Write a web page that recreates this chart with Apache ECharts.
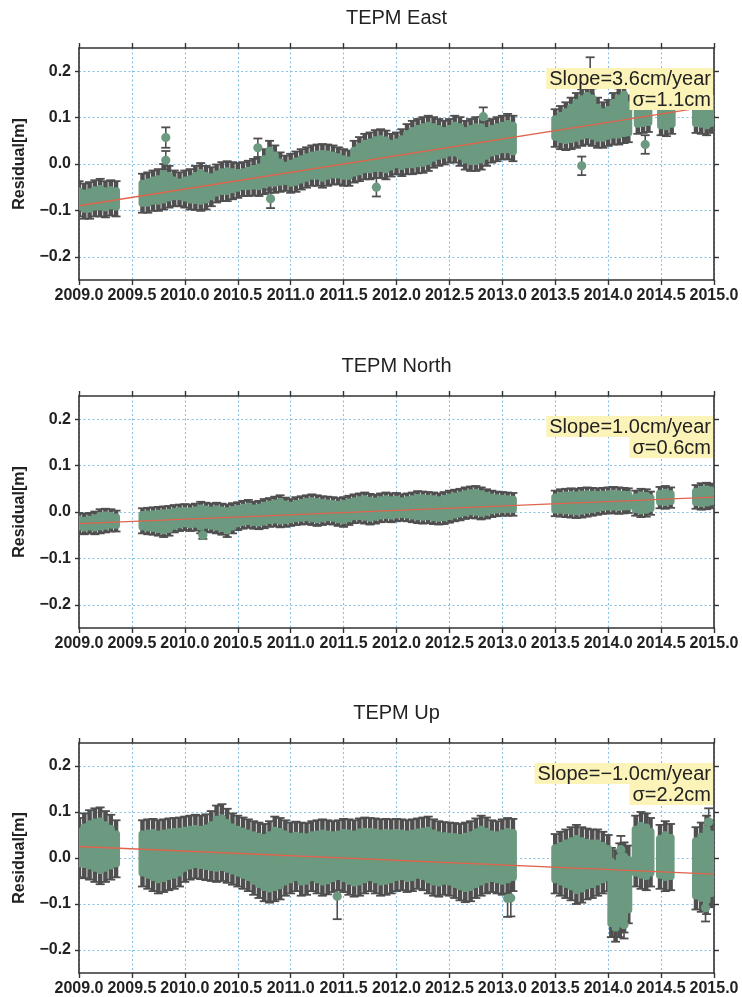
<!DOCTYPE html>
<html><head><meta charset="utf-8">
<script src="https://cdn.jsdelivr.net/npm/echarts@6/dist/echarts.min.js"></script>
<style>html,body{margin:0;padding:0;background:#fff}#c{width:742px;height:997px}</style>
</head><body><div id="c"></div><script>
// ---------------- DATA ----------------
const panelTitles = ['TEPM East', 'TEPM North', 'TEPM Up'];
const slopeTexts = ['Slope=3.6cm/year', 'Slope=1.0cm/year', 'Slope=\u22121.0cm/year'];
const sigmaTexts = ['\u03c3=1.1cm', '\u03c3=0.6cm', '\u03c3=2.2cm'];
const yTickValues = [-0.2, -0.1, 0, 0.1, 0.2];
const xMin = 2009.0, xMax = 2015.0, xStep = 0.5;

// bands: [time, low edge of point cloud, high edge of point cloud]
const eastBand = [
[2009.00,-0.100,-0.050],[2009.05,-0.105,-0.055],[2009.10,-0.105,-0.052],[2009.15,-0.100,-0.048],
[2009.20,-0.100,-0.045],[2009.25,-0.102,-0.050],[2009.30,-0.098,-0.048],[2009.35,-0.100,-0.050],
[2009.60,-0.092,-0.034],[2009.65,-0.092,-0.031],[2009.70,-0.088,-0.027],[2009.75,-0.088,-0.024],
[2009.80,-0.085,-0.013],[2009.85,-0.081,-0.017],[2009.90,-0.078,-0.027],[2009.95,-0.078,-0.031],
[2010.00,-0.081,-0.027],[2010.05,-0.085,-0.024],[2010.10,-0.086,-0.017],[2010.15,-0.088,-0.011],
[2010.20,-0.085,-0.017],[2010.25,-0.078,-0.020],[2010.30,-0.070,-0.014],[2010.35,-0.067,-0.009],
[2010.40,-0.067,-0.007],[2010.45,-0.063,-0.009],[2010.50,-0.060,-0.011],[2010.55,-0.056,-0.009],
[2010.60,-0.056,-0.006],[2010.65,-0.055,-0.002],[2010.70,-0.056,0.001],[2010.75,-0.052,0.019],
[2010.80,-0.049,0.037],[2010.85,-0.049,0.027],[2010.90,-0.047,0.012],[2010.95,-0.045,0.005],
[2011.00,-0.049,0.009],[2011.05,-0.047,0.014],[2011.10,-0.042,0.019],[2011.15,-0.038,0.023],
[2011.20,-0.034,0.027],[2011.25,-0.034,0.029],[2011.30,-0.038,0.030],[2011.35,-0.034,0.029],
[2011.40,-0.031,0.027],[2011.45,-0.031,0.023],[2011.50,-0.034,0.019],[2011.55,-0.034,0.016],
[2011.60,-0.027,0.037],[2011.65,-0.024,0.045],[2011.70,-0.020,0.052],[2011.75,-0.020,0.055],
[2011.80,-0.017,0.060],[2011.85,-0.017,0.062],[2011.90,-0.020,0.059],[2011.95,-0.014,0.052],
[2012.00,-0.009,0.055],[2012.05,-0.013,0.062],[2012.10,-0.009,0.073],[2012.15,-0.009,0.080],
[2012.20,-0.007,0.084],[2012.25,-0.006,0.088],[2012.30,-0.002,0.091],[2012.35,0.005,0.088],
[2012.40,0.009,0.084],[2012.45,0.012,0.080],[2012.50,0.016,0.084],[2012.55,0.016,0.091],
[2012.60,0.009,0.088],[2012.65,0.001,0.080],[2012.70,-0.002,0.084],[2012.75,-0.002,0.088],
[2012.80,0.001,0.088],[2012.85,0.009,0.080],[2012.90,0.016,0.084],[2012.95,0.019,0.088],
[2013.00,0.023,0.091],[2013.05,0.023,0.095],[2013.10,0.019,0.091],
[2013.50,0.050,0.105],[2013.55,0.045,0.112],[2013.60,0.043,0.120],[2013.65,0.045,0.130],
[2013.70,0.048,0.140],[2013.75,0.052,0.148],[2013.80,0.055,0.155],[2013.85,0.052,0.150],
[2013.90,0.048,0.130],[2013.95,0.048,0.120],[2014.00,0.052,0.125],[2014.05,0.055,0.140],
[2014.10,0.055,0.150],[2014.15,0.058,0.158],[2014.19,0.060,0.135],
[2014.28,0.078,0.135],[2014.33,0.080,0.140],[2014.38,0.082,0.130],
[2014.50,0.075,0.125],[2014.55,0.073,0.130],[2014.60,0.078,0.122],
[2014.83,0.080,0.140],[2014.88,0.078,0.150],[2014.93,0.075,0.155],[2014.97,0.080,0.150]
];
// isolated points: [time, value, error]
const eastPoints = [
[2009.82,0.057,0.022],[2009.82,0.008,0.020],[2010.69,0.035,0.020],[2010.81,-0.075,0.020],
[2011.81,-0.050,0.020],[2012.82,0.102,0.020],[2013.75,-0.004,0.020],[2013.83,0.190,0.040],
[2014.35,0.042,0.020]
];
const eastErr = 0.013;
const eastTrend = [[2009.0,-0.090],[2015.0,0.126]];

const northBand = [
[2009.00,-0.040,-0.008],[2009.05,-0.042,-0.010],[2009.10,-0.040,-0.008],[2009.15,-0.042,-0.005],
[2009.20,-0.040,0.000],[2009.25,-0.038,0.001],[2009.30,-0.036,0.000],[2009.35,-0.036,-0.003],
[2009.60,-0.040,0.002],[2009.65,-0.042,0.003],[2009.70,-0.043,0.004],[2009.75,-0.045,0.005],
[2009.80,-0.048,0.006],[2009.85,-0.045,0.007],[2009.90,-0.038,0.009],[2009.95,-0.035,0.010],
[2010.00,-0.033,0.011],[2010.05,-0.035,0.010],[2010.10,-0.034,0.012],[2010.15,-0.040,0.016],
[2010.20,-0.036,0.014],[2010.25,-0.038,0.012],[2010.30,-0.040,0.014],[2010.35,-0.043,0.012],
[2010.40,-0.048,0.010],[2010.45,-0.040,0.013],[2010.50,-0.033,0.015],[2010.55,-0.030,0.018],
[2010.60,-0.028,0.020],[2010.65,-0.030,0.016],[2010.70,-0.031,0.018],[2010.75,-0.029,0.022],
[2010.80,-0.026,0.024],[2010.85,-0.025,0.027],[2010.90,-0.027,0.030],[2010.95,-0.026,0.025],
[2011.00,-0.024,0.022],[2011.05,-0.022,0.026],[2011.10,-0.021,0.028],[2011.15,-0.020,0.030],
[2011.20,-0.022,0.032],[2011.25,-0.024,0.030],[2011.30,-0.022,0.028],[2011.35,-0.020,0.027],
[2011.40,-0.021,0.026],[2011.45,-0.024,0.024],[2011.50,-0.026,0.026],[2011.55,-0.022,0.029],
[2011.60,-0.018,0.032],[2011.65,-0.017,0.034],[2011.70,-0.019,0.036],[2011.75,-0.021,0.033],
[2011.80,-0.019,0.031],[2011.85,-0.016,0.034],[2011.90,-0.015,0.036],[2011.95,-0.016,0.034],
[2012.00,-0.014,0.035],[2012.05,-0.013,0.032],[2012.10,-0.014,0.034],[2012.15,-0.016,0.036],
[2012.20,-0.018,0.039],[2012.25,-0.019,0.038],[2012.30,-0.018,0.037],[2012.35,-0.020,0.036],
[2012.40,-0.021,0.034],[2012.45,-0.020,0.037],[2012.50,-0.017,0.040],[2012.55,-0.014,0.042],
[2012.60,-0.012,0.044],[2012.65,-0.009,0.047],[2012.70,-0.007,0.049],[2012.75,-0.008,0.050],
[2012.80,-0.010,0.047],[2012.85,-0.008,0.043],[2012.90,-0.005,0.040],[2012.95,-0.003,0.038],
[2013.00,-0.002,0.037],[2013.05,-0.002,0.036],[2013.10,-0.002,0.035],
[2013.50,-0.003,0.040],[2013.55,-0.004,0.043],[2013.60,-0.005,0.044],[2013.65,-0.006,0.045],
[2013.70,-0.007,0.044],[2013.75,-0.006,0.046],[2013.80,-0.004,0.047],[2013.85,-0.002,0.046],
[2013.90,0.000,0.045],[2013.95,0.002,0.046],[2014.00,0.003,0.047],[2014.05,0.003,0.048],
[2014.10,0.002,0.047],[2014.15,0.003,0.046],[2014.19,0.004,0.045],
[2014.26,-0.002,0.040],[2014.31,-0.005,0.044],[2014.36,-0.004,0.043],[2014.40,0.000,0.038],
[2014.49,0.014,0.048],[2014.54,0.013,0.050],[2014.59,0.015,0.047],
[2014.83,0.013,0.052],[2014.88,0.011,0.056],[2014.93,0.012,0.057],[2014.97,0.014,0.055]
];
const northPoints = [[2010.17,-0.050,0.008]];
const northErr = 0.006;
const northTrend = [[2009.0,-0.025],[2015.0,0.032]];

const upBand = [
[2009.00,-0.020,0.065],[2009.05,-0.022,0.075],[2009.10,-0.025,0.082],[2009.15,-0.030,0.086],
[2009.20,-0.035,0.088],[2009.25,-0.030,0.080],[2009.30,-0.025,0.072],[2009.35,-0.020,0.060],
[2009.60,-0.040,0.060],[2009.65,-0.045,0.062],[2009.70,-0.050,0.063],[2009.75,-0.055,0.060],
[2009.80,-0.052,0.062],[2009.85,-0.048,0.064],[2009.90,-0.045,0.065],[2009.95,-0.040,0.066],
[2010.00,-0.030,0.068],[2010.05,-0.025,0.070],[2010.10,-0.022,0.072],[2010.15,-0.024,0.070],
[2010.20,-0.026,0.073],[2010.25,-0.028,0.080],[2010.30,-0.030,0.092],[2010.35,-0.028,0.095],
[2010.40,-0.032,0.085],[2010.45,-0.036,0.075],[2010.50,-0.040,0.070],[2010.55,-0.045,0.066],
[2010.60,-0.050,0.062],[2010.65,-0.058,0.058],[2010.70,-0.065,0.055],[2010.75,-0.072,0.052],
[2010.80,-0.075,0.058],[2010.85,-0.072,0.068],[2010.90,-0.068,0.065],[2010.95,-0.060,0.060],
[2011.00,-0.055,0.055],[2011.05,-0.050,0.057],[2011.10,-0.060,0.055],[2011.15,-0.058,0.054],
[2011.20,-0.050,0.058],[2011.25,-0.055,0.060],[2011.30,-0.060,0.062],[2011.35,-0.057,0.060],
[2011.40,-0.052,0.058],[2011.45,-0.048,0.060],[2011.50,-0.052,0.063],[2011.55,-0.058,0.062],
[2011.60,-0.062,0.060],[2011.65,-0.060,0.064],[2011.70,-0.055,0.066],[2011.75,-0.050,0.065],
[2011.80,-0.055,0.064],[2011.85,-0.060,0.062],[2011.90,-0.058,0.063],[2011.95,-0.055,0.062],
[2012.00,-0.050,0.063],[2012.05,-0.048,0.062],[2012.10,-0.052,0.060],[2012.15,-0.050,0.062],
[2012.20,-0.045,0.064],[2012.25,-0.048,0.066],[2012.30,-0.055,0.068],[2012.35,-0.060,0.062],
[2012.40,-0.062,0.058],[2012.45,-0.058,0.056],[2012.50,-0.060,0.055],[2012.55,-0.065,0.054],
[2012.60,-0.070,0.052],[2012.65,-0.074,0.055],[2012.70,-0.072,0.058],[2012.75,-0.065,0.064],
[2012.80,-0.060,0.070],[2012.85,-0.055,0.066],[2012.90,-0.052,0.060],[2012.95,-0.055,0.058],
[2013.00,-0.058,0.062],[2013.05,-0.055,0.065],[2013.10,-0.050,0.063],
[2013.50,-0.055,0.030],[2013.55,-0.060,0.035],[2013.60,-0.065,0.040],[2013.65,-0.070,0.045],
[2013.70,-0.078,0.050],[2013.75,-0.075,0.045],[2013.80,-0.068,0.042],[2013.85,-0.065,0.040],
[2013.90,-0.060,0.040],[2013.95,-0.055,0.035],[2014.00,-0.050,0.028],
[2014.03,-0.150,0.000],[2014.07,-0.160,-0.005],[2014.11,-0.150,0.010],[2014.15,-0.140,0.012],
[2014.19,-0.120,0.005],
[2014.26,-0.040,0.070],[2014.31,-0.045,0.078],[2014.36,-0.048,0.075],[2014.40,-0.040,0.065],
[2014.49,-0.045,0.050],[2014.54,-0.050,0.058],[2014.59,-0.048,0.052],
[2014.83,-0.090,0.045],[2014.88,-0.095,0.055],[2014.93,-0.100,0.070],[2014.97,-0.085,0.060]
];
const upPoints = [
[2011.44,-0.083,0.050],[2013.05,-0.088,0.040],[2013.08,-0.087,0.040],[2014.12,0.018,0.030],
[2014.15,-0.145,0.030],[2014.92,-0.108,0.030],[2014.95,0.078,0.030]
];
const upErr = 0.022;
const upTrend = [[2009.0,0.025],[2015.0,-0.035]];

const bands = [eastBand, northBand, upBand];
const points = [eastPoints, northPoints, upPoints];
const bandErr = [eastErr, northErr, upErr];
const trends = [eastTrend, northTrend, upTrend];

// ---------------- LAYOUT / STYLE ----------------
const FONT = '"Liberation Sans", Arial, sans-serif';
const GREEN = '#6b9a80', GRAY = '#4f4f4f', RED = '#e0644c', GRID_C = '#86c0e4', AX = '#333';
const gridTops = [48, 396, 743], gridH = 232, gridL = 79, gridR = 28;

const chart = echarts.init(document.getElementById('c'), null, {renderer: 'canvas'});

function renderErr(params, api) {
  const t = api.value(0), lo = api.value(1), hi = api.value(2), e = api.value(3);
  const pTop = api.coord([t, hi + e]), pBot = api.coord([t, lo - e]);
  const x = pTop[0];
  const single = lo === hi;
  const w = single ? 1.6 : 4.5;
  return {type: 'group', children: [
    {type: 'rect', shape: {x: x - w / 2, y: pTop[1], width: w, height: pBot[1] - pTop[1]}, style: {fill: GRAY}},
    {type: 'rect', shape: {x: x - 4.5, y: pTop[1] - 0.9, width: 9, height: 1.8}, style: {fill: GRAY}},
    {type: 'rect', shape: {x: x - 4.5, y: pBot[1] - 0.9, width: 9, height: 1.8}, style: {fill: GRAY}}
  ]};
}
function renderDot(params, api) {
  const t = api.value(0), lo = api.value(1), hi = api.value(2);
  const pHi = api.coord([t, hi]), pLo = api.coord([t, lo]);
  const x = pHi[0];
  if (lo === hi) return {type: 'circle', shape: {cx: x, cy: pHi[1], r: 4.6}, style: {fill: GREEN}};
  return {type: 'rect', shape: {x: x - 4, y: pHi[1], width: 8, height: pLo[1] - pHi[1], r: 3.5}, style: {fill: GREEN}};
}
const fmtY = v => (v < 0 ? '\u2212' : '') + Math.abs(v).toFixed(1);

const grid = [], xAxis = [], yAxis = [], series = [], graphic = [];
for (let i = 0; i < 3; i++) {
  grid.push({left: gridL, right: gridR, top: gridTops[i], height: gridH});
  const dotted = {show: true, lineStyle: {color: GRID_C, type: [2, 2.5], width: 1.1}};
  xAxis.push({gridIndex: i, type: 'value', min: xMin, max: xMax, interval: xStep, position: 'bottom',
    axisLine: {show: true, onZero: false, lineStyle: {color: AX, width: 1.6}},
    axisTick: {show: true, inside: false, length: 5, lineStyle: {color: AX, width: 1.4}},
    axisLabel: {show: true, margin: 8, fontSize: 16, fontWeight: 'bold', fontFamily: FONT, color: '#222',
      formatter: v => v.toFixed(1)},
    splitLine: dotted});
  xAxis.push({gridIndex: i, type: 'value', min: xMin, max: xMax, interval: xStep, position: 'top',
    axisLine: {show: true, onZero: false, lineStyle: {color: AX, width: 1.6}},
    axisTick: {show: true, inside: false, length: 5, lineStyle: {color: AX, width: 1.4}},
    axisLabel: {show: false}, splitLine: {show: false}});
  yAxis.push({gridIndex: i, type: 'value', min: -0.25, max: 0.25, interval: 0.05, position: 'left',
    name: 'Residual[m]', nameLocation: 'middle', nameGap: 51,
    nameTextStyle: {fontSize: 16, fontWeight: 'bold', fontFamily: FONT, color: '#222'},
    axisLine: {show: true, onZero: false, lineStyle: {color: AX, width: 1.6}},
    axisTick: {show: true, inside: false, length: 4, customValues: yTickValues, lineStyle: {color: AX, width: 1.4}},
    axisLabel: {show: true, margin: 8, customValues: yTickValues, formatter: fmtY,
      fontSize: 16, fontWeight: 'bold', fontFamily: FONT, color: '#222'},
    splitLine: dotted});
  yAxis.push({gridIndex: i, type: 'value', min: -0.25, max: 0.25, interval: 0.05, position: 'right',
    axisLine: {show: true, onZero: false, lineStyle: {color: AX, width: 1.6}},
    axisTick: {show: true, inside: false, length: 5, customValues: yTickValues, lineStyle: {color: AX, width: 1.4}},
    axisLabel: {show: false}, splitLine: {show: false}});

  const items = bands[i].map(d => [d[0], d[1], d[2], bandErr[i]])
    .concat(points[i].map(p => [p[0], p[1], p[1], p[2]]));
  series.push({type: 'custom', xAxisIndex: 2 * i, yAxisIndex: 2 * i, renderItem: renderErr,
    data: items, clip: true, silent: true, z: 2});
  series.push({type: 'custom', xAxisIndex: 2 * i, yAxisIndex: 2 * i, renderItem: renderDot,
    data: items, clip: true, silent: true, z: 3});
  series.push({type: 'line', xAxisIndex: 2 * i, yAxisIndex: 2 * i, data: trends[i], showSymbol: false,
    lineStyle: {color: RED, width: 1.3}, silent: true, z: 4});

  graphic.push({type: 'text', x: (gridL + 742 - gridR) / 2, y: gridTops[i] - 30, z: 100,
    style: {text: panelTitles[i], font: '20px ' + FONT, fill: '#222', align: 'center', verticalAlign: 'middle'}});
  graphic.push({type: 'text', x: 742 - gridR - 1, y: gridTops[i] + 20, z: 100,
    style: {text: slopeTexts[i], font: '20px ' + FONT, fill: '#222', align: 'right', verticalAlign: 'top',
      backgroundColor: '#fcf3b8', padding: [1, 2, 0, 3]}});
  graphic.push({type: 'text', x: 742 - gridR - 1, y: gridTops[i] + 41, z: 100,
    style: {text: sigmaTexts[i], font: '20px ' + FONT, fill: '#222', align: 'right', verticalAlign: 'top',
      backgroundColor: '#fcf3b8', padding: [1, 2, 0, 3]}});
}

chart.setOption({animation: false, backgroundColor: '#fff', grid, xAxis, yAxis, series, graphic});
</script></body></html>
